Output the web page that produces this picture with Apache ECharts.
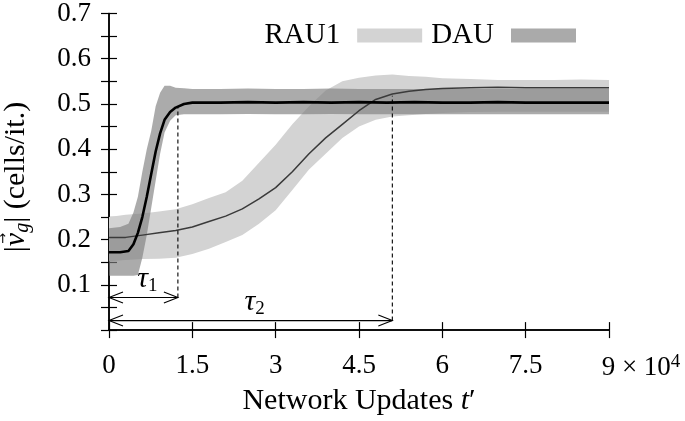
<!DOCTYPE html>
<html>
<head>
<meta charset="utf-8">
<script src="https://cdn.jsdelivr.net/npm/echarts@6/dist/echarts.min.js"></script>
<style>html,body{margin:0;padding:0;background:#fff}#c{width:685px;height:421px}</style>
</head>
<body>
<div id="c"></div>
<script>
// ---- data ----
const yTicksLabels = ['0.1','0.2','0.3','0.4','0.5','0.6','0.7'];

const dauT    = [0, 2000, 3500, 4400, 5200, 6000, 6800, 7600, 8400, 9200, 10000, 11000, 12000, 13500, 15000, 20000, 25000, 30000, 35000, 40000, 45000, 50000, 55000, 60000, 65000, 70000, 75000, 80000, 85000, 90000];
const dauMean = [0.172, 0.172, 0.175, 0.19, 0.215, 0.25, 0.295, 0.345, 0.395, 0.435, 0.465, 0.482, 0.492, 0.500, 0.503, 0.503, 0.504, 0.503, 0.504, 0.503, 0.504, 0.503, 0.504, 0.503, 0.503, 0.504, 0.503, 0.503, 0.503, 0.503];
const dauLow  = [0.120, 0.120, 0.120, 0.120, 0.122, 0.16, 0.21, 0.27, 0.33, 0.39, 0.437, 0.463, 0.475, 0.477, 0.477, 0.477, 0.478, 0.477, 0.477, 0.478, 0.477, 0.477, 0.477, 0.477, 0.477, 0.477, 0.477, 0.477, 0.477, 0.477];
const dauHigh = [0.225, 0.228, 0.235, 0.26, 0.295, 0.35, 0.40, 0.44, 0.495, 0.525, 0.54, 0.54, 0.536, 0.535, 0.533, 0.533, 0.534, 0.533, 0.533, 0.534, 0.533, 0.533, 0.533, 0.533, 0.533, 0.533, 0.533, 0.533, 0.533, 0.533];

const rauT    = [0, 3000, 6000, 9000, 12000, 15000, 18000, 21000, 24000, 27000, 30000, 33000, 36000, 39000, 42000, 45000, 48000, 51000, 54000, 57000, 60000, 65000, 70000, 75000, 80000, 85000, 90000];
const rauMean = [0.205, 0.205, 0.21, 0.215, 0.22, 0.228, 0.24, 0.252, 0.268, 0.29, 0.315, 0.35, 0.39, 0.425, 0.455, 0.485, 0.51, 0.522, 0.528, 0.532, 0.534, 0.536, 0.537, 0.536, 0.536, 0.536, 0.536];
const rauHigh = [0.25, 0.255, 0.258, 0.262, 0.267, 0.278, 0.292, 0.305, 0.33, 0.37, 0.41, 0.455, 0.495, 0.53, 0.55, 0.558, 0.563, 0.565, 0.562, 0.56, 0.557, 0.555, 0.553, 0.553, 0.553, 0.554, 0.553];
const rauLow  = [0.152, 0.155, 0.157, 0.158, 0.16, 0.168, 0.18, 0.195, 0.21, 0.235, 0.265, 0.31, 0.355, 0.39, 0.425, 0.45, 0.465, 0.472, 0.475, 0.478, 0.48, 0.482, 0.483, 0.483, 0.483, 0.483, 0.483];

// tau annotations
const tauStart  = [0, 0];
const tauEnd    = [12400, 51000];
const tauArrowY = [0.072, 0.021];
const tauTopY   = [0.493, 0.518];
const tauLabels = ['1', '2'];

// ---- chart ----
const FONT = 'Liberation Serif';
const TICK_FS = 27, NAME_FS = 30, LEG_FS = 29;
const pairs = (xs, ys) => xs.map((x, i) => [x, ys[i]]);

function bandRenderer(ts, lo, hi, style) {
  return function (params, api) {
    if (params.dataIndex !== 0) return null;
    const pts = [];
    for (let i = 0; i < ts.length; i++) pts.push(api.coord([ts[i], lo[i]]));
    for (let i = ts.length - 1; i >= 0; i--) pts.push(api.coord([ts[i], hi[i]]));
    return {type: 'polygon', shape: {points: pts}, style: style};
  };
}

const chart = echarts.init(document.getElementById('c'), null, {renderer: 'canvas'});

const axisCommon = {
  axisLine: {show: true, lineStyle: {color: '#000', width: 1.5}},
  axisTick: {show: true, inside: true, length: 8, lineStyle: {color: '#000', width: 1.2}},
  splitLine: {show: false}
};

// measure pieces of the y-axis title to place the vector arrow above v
const mctx = document.createElement('canvas').getContext('2d');
function tw(s, fs, it) { mctx.font = (it ? 'italic ' : '') + fs + 'px "' + FONT + '"'; return mctx.measureText(s).width; }
const yn1 = '|', yn2 = 'v', yn3 = 'g', yn4 = '| (cells/it.)';
const SUB_FS = 20;
const wTot = tw(yn1, NAME_FS) + tw(yn2, NAME_FS, true) + tw(yn3, SUB_FS, true) + tw(yn4, NAME_FS);
const vCenter = -wTot / 2 + tw(yn1, NAME_FS) + tw(yn2, NAME_FS, true) / 2 + 1;

const option = {
  backgroundColor: '#fff',
  animation: false,
  textStyle: {fontFamily: FONT},
  grid: {left: 109, right: 76, top: 11, bottom: 86, containLabel: false},
  legend: {
    data: [
      {name: 'RAU1', itemStyle: {color: '#d3d3d3', opacity: 1}},
      {name: 'DAU', itemStyle: {color: '#aaaaaa', opacity: 1}}
    ],
    icon: 'rect', itemWidth: 65, itemHeight: 14, align: 'right',
    right: 104, top: 16, itemGap: 9, selectedMode: false,
    textStyle: {fontFamily: FONT, fontSize: LEG_FS, color: '#000', padding: [0, 12, 0, 0]}
  },
  graphic: [{
    type: 'group', x: 16, y: 177, rotation: Math.PI / 2,
    children: [
      {type: 'text', x: 0, y: 0, style: {
        text: '{n|' + yn1 + '}{i|' + yn2 + '}{s|' + yn3 + '}{n|' + yn4 + '}',
        align: 'center', verticalAlign: 'middle',
        rich: {
          n: {fontFamily: FONT, fontSize: NAME_FS, fill: '#000'},
          i: {fontFamily: FONT, fontSize: NAME_FS, fill: '#000', fontStyle: 'italic'},
          s: {fontFamily: FONT, fontSize: SUB_FS, fill: '#000', fontStyle: 'italic', padding: [13, 0, 0, 0]}
        }}},
      {type: 'text', x: vCenter, y: -12, style: {text: '→', fontFamily: 'DejaVu Sans', fontSize: 13, fill: '#000', align: 'center', verticalAlign: 'middle'}}
    ]
  }],
  xAxis: [
    Object.assign({}, axisCommon, {
      type: 'value', min: 0, max: 90000, interval: 15000, position: 'bottom',
      name: '{n|Network Updates }{i|t}{n|′}', nameLocation: 'middle', nameGap: 55,
      nameTextStyle: {rich: {
        n: {fontFamily: FONT, fontSize: NAME_FS, color: '#000'},
        i: {fontFamily: FONT, fontSize: NAME_FS, color: '#000', fontStyle: 'italic'}
      }},
      axisLabel: {
        margin: 22, color: '#000', fontFamily: FONT, fontSize: TICK_FS,
        formatter: function (v) {
          if (v === 90000) return '{sp|}9{n| × 10}{sup|4}';
          return String(+(v / 10000).toFixed(1));
        },
        rich: {
          sp: {width: 64},
          n: {fontFamily: FONT, fontSize: TICK_FS, color: '#000'},
          sup: {fontFamily: FONT, fontSize: 19, color: '#000', verticalAlign: 'top', padding: [0, 0, 12, 0]}
        }
      }
    }),
    Object.assign({}, axisCommon, {
      type: 'value', min: 0, max: 90000, interval: 15000, position: 'top',
      axisLabel: {show: false}
    })
  ],
  yAxis: [
    Object.assign({}, axisCommon, {
      type: 'value', min: 0, max: 0.7, interval: 0.05, position: 'left',
      axisLabel: {
        margin: 18, color: '#000', fontFamily: FONT, fontSize: TICK_FS,
        formatter: function (v) {
          const k = Math.round(v * 100);
          if (k === 0 || k % 10 !== 0) return '';
          return yTicksLabels[k / 10 - 1];
        }
      }
    }),
    Object.assign({}, axisCommon, {
      type: 'value', min: 0, max: 0.7, interval: 0.05, position: 'right',
      axisLabel: {show: false}
    })
  ],
  series: [
    {name: 'RAU1', type: 'custom', silent: true, z: 1, itemStyle: {color: '#d3d3d3'},
     data: pairs(rauT, rauMean),
     renderItem: bandRenderer(rauT, rauLow, rauHigh, {fill: '#d3d3d3'})},
    {name: 'DAU', type: 'custom', silent: true, z: 2, itemStyle: {color: '#aaaaaa'},
     data: pairs(dauT, dauMean),
     renderItem: bandRenderer(dauT, dauLow, dauHigh, {fill: '#808080', opacity: 0.66})},
    {name: 'RAU1 mean', type: 'line', data: pairs(rauT, rauMean), showSymbol: false, silent: true,
     lineStyle: {color: '#3a3a3a', width: 1.5}, z: 3},
    {name: 'DAU mean', type: 'line', data: pairs(dauT, dauMean), showSymbol: false, silent: true,
     lineStyle: {color: '#000000', width: 2.6}, z: 4},
    {
      name: 'tau', type: 'custom', silent: true, z: 5,
      data: tauStart.map((s, i) => [s, tauEnd[i], tauArrowY[i], tauTopY[i], i]),
      renderItem: function (params, api) {
        const p0 = api.coord([api.value(0), api.value(2)]);
        const p1 = api.coord([api.value(1), api.value(2)]);
        const pt = api.coord([api.value(1), api.value(3)]);
        const idx = api.value(4);
        const hl = 14, hw = 5.5;
        const st = {stroke: '#000', lineWidth: 1.1, fill: null};
        return {
          type: 'group',
          children: [
            {type: 'line', shape: {x1: p0[0], y1: p0[1], x2: p1[0], y2: p1[1]}, style: st},
            {type: 'polyline', shape: {points: [[p0[0] + hl, p0[1] - hw], [p0[0], p0[1]], [p0[0] + hl, p0[1] + hw]]}, style: st},
            {type: 'polyline', shape: {points: [[p1[0] - hl, p1[1] - hw], [p1[0], p1[1]], [p1[0] - hl, p1[1] + hw]]}, style: st},
            {type: 'line', shape: {x1: p1[0], y1: p1[1], x2: pt[0], y2: pt[1]}, style: {stroke: '#000', lineWidth: 1.1, lineDash: [4, 3]}},
            {type: 'text', x: (p0[0] + p1[0]) / 2 + 4, y: p0[1] - 2,
             style: {text: '{t|τ}{s|' + tauLabels[idx] + '}', align: 'center', verticalAlign: 'bottom',
               rich: {
                 t: {fontFamily: FONT, fontSize: 30, fontStyle: 'italic', fill: '#000'},
                 s: {fontFamily: FONT, fontSize: 19, fill: '#000', padding: [13, 0, 0, 0]}
               }}}
          ]
        };
      }
    }
  ]
};
chart.setOption(option);
</script>
</body>
</html>
